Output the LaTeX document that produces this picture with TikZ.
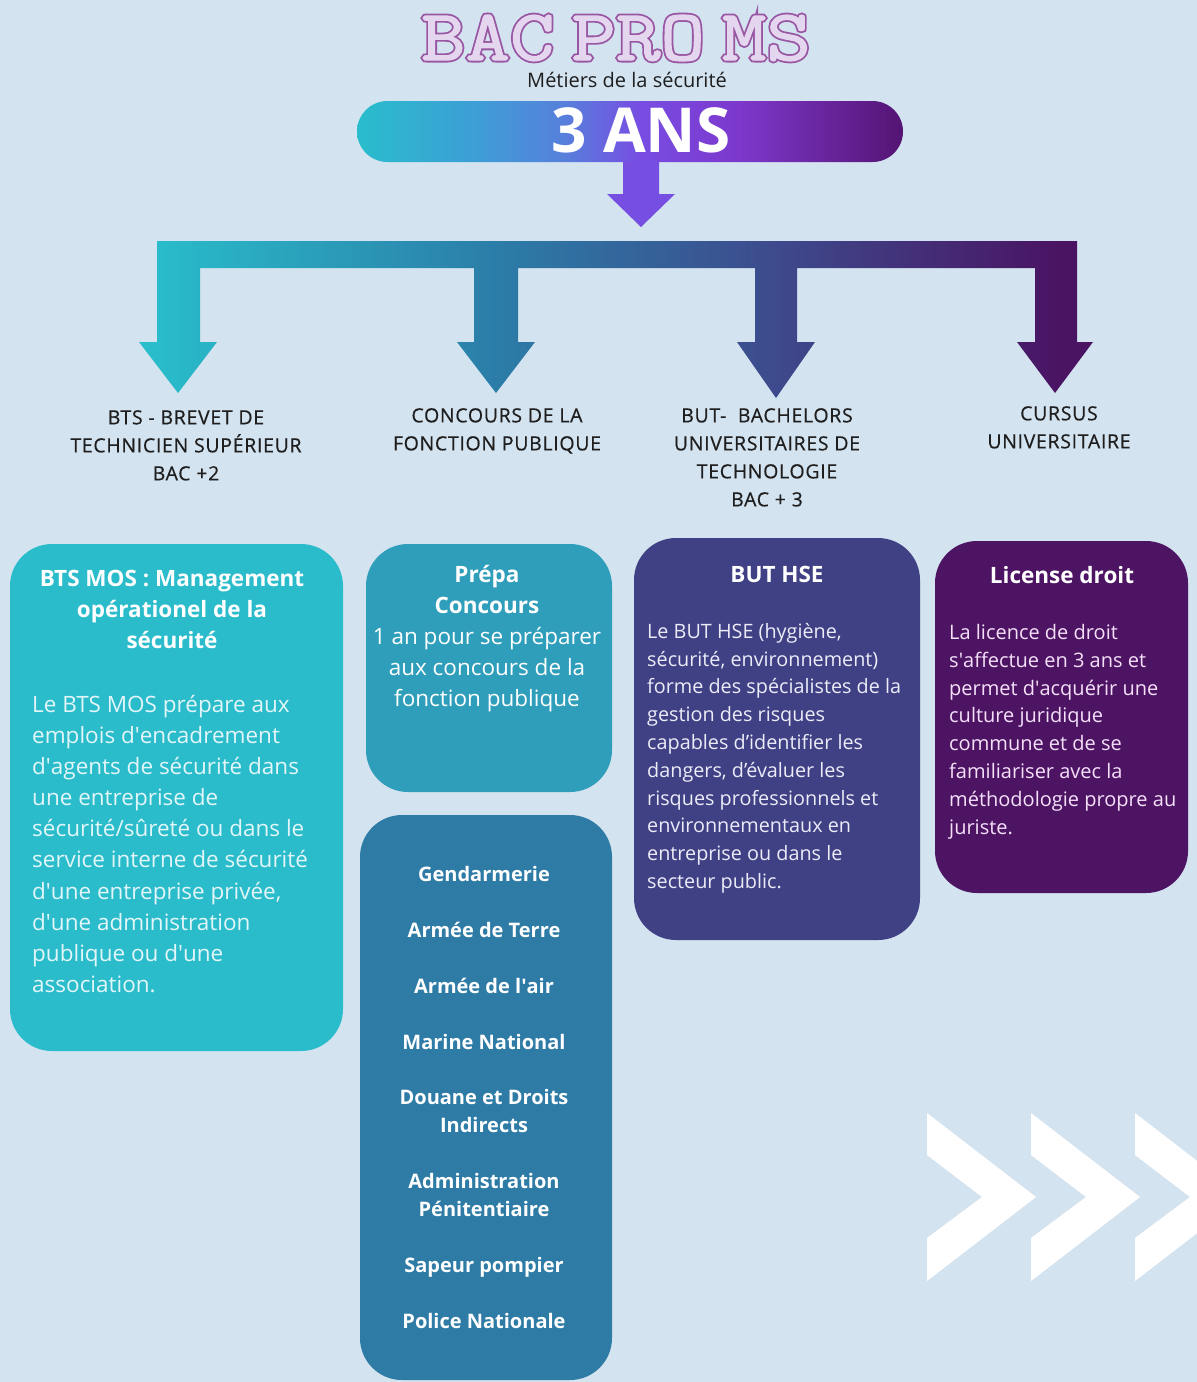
\documentclass[tikz,border=0pt]{standalone}
\usepackage{fontspec}
\setmainfont{Open Sans}
\newfontfamily\slabfont[FakeStretch=1.2]{Latin Modern Mono}
\newfontfamily\labelfont[FakeBold=0.5,LetterSpace=3.5]{Open Sans}
\usetikzlibrary{shapes.misc}
\definecolor{bg}{RGB}{211,227,240}
\definecolor{cyanbox}{RGB}{43,188,203}
\definecolor{prepabox}{RGB}{46,158,187}
\definecolor{listbox}{RGB}{46,123,166}
\definecolor{butbox}{RGB}{64,64,133}
\definecolor{licbox}{RGB}{78,20,100}
\definecolor{titlefill}{RGB}{228,214,238}
\definecolor{titleborder}{RGB}{153,87,163}
\definecolor{arrowpurple}{RGB}{118,78,226}
\definecolor{cyantext}{RGB}{226,246,249}
\definecolor{butext}{RGB}{236,236,248}
\definecolor{lictext}{RGB}{244,224,248}
\definecolor{darktext}{RGB}{30,30,30}
\pgfdeclarehorizontalshading{barshade}{100bp}{rgb(0bp)=(0.16,0.74,0.80); rgb(25bp)=(0.16,0.74,0.80); rgb(36bp)=(0.24,0.62,0.84); rgb(44bp)=(0.34,0.50,0.86); rgb(51bp)=(0.47,0.30,0.89); rgb(60bp)=(0.49,0.22,0.80); rgb(75bp)=(0.33,0.08,0.45); rgb(100bp)=(0.33,0.08,0.45)}
\pgfdeclarehorizontalshading{forkshade}{100bp}{rgb(0bp)=(0.16,0.75,0.80); rgb(25bp)=(0.16,0.75,0.80); rgb(43.7bp)=(0.17,0.49,0.66); rgb(58.4bp)=(0.24,0.29,0.55); rgb(73bp)=(0.29,0.08,0.39); rgb(100bp)=(0.29,0.08,0.39)}
\newcommand{\titleword}{BAC\hspace{17pt}PRO\hspace{17pt}MS}
\newcommand{\outerlayer}[1]{{\color{titleborder}\special{pdf:literal direct 2 Tr 5 w 0.60 0.34 0.64 RG}#1\special{pdf:literal direct 0 Tr 1 w}}}
\newcommand{\innerlayer}[1]{{\color{titlefill}\special{pdf:literal direct 2 Tr 1.4 w 0.894 0.839 0.933 RG}#1\special{pdf:literal direct 0 Tr 1 w}}}
\newcommand{\sq}{\XeTeXglyph\XeTeXcharglyph"0027\relax}
\tikzset{
  box/.style={rounded corners=42pt, inner sep=0pt, draw=none},
  lbl/.style={font=\labelfont\fontsize{19.5}{28}\selectfont, text=darktext, align=center, anchor=north, inner sep=0pt},
  boxtitle/.style={font=\fontsize{22.5}{31}\selectfont\bfseries, text=white, align=center, anchor=north, inner sep=0pt},
  item/.style={font=\fontsize{20}{28}\selectfont\bfseries, text=white, align=center, anchor=north, inner sep=0pt},
  chev/.style={fill=white, draw=none}
}
\begin{document}
\begin{tikzpicture}[x=1pt,y=-1pt]
\useasboundingbox (0,0) rectangle (1197,1382);
\fill[bg] (0,0) rectangle (1197,1382);

% title
\node[anchor=base, inner sep=0pt, font=\slabfont\fontsize{72}{72}\selectfont] (title) at (616,60)
 {\rlap{\outerlayer{\titleword}}\innerlayer{\titleword}};
\node[inner sep=0pt, font=\fontsize{20}{24}\selectfont, text=darktext] (sub) at (627,80) {Métiers de la sécurité};

% bar
\node[rounded rectangle, minimum width=546pt, minimum height=61pt, inner sep=0pt, shading=barshade] (bar) at (630,131.5) {};
\node[inner sep=0pt, font=\fontsize{62}{62}\selectfont\bfseries, text=white] (ans) at (641,130) {3 ANS};
\fill[arrowpurple] (623,161) -- (659,161) -- (659,194) -- (675,194) -- (641,227) -- (607,194) -- (623,194) -- cycle;

% fork
\shade[shading=forkshade] (157,241) -- (1077,241) -- (1077,342) -- (1093,342) -- (1055,393) -- (1017,342) -- (1035,342) -- (1035,268)
 -- (797,268) -- (797,342) -- (815,342) -- (776,398) -- (737,342) -- (755,342) -- (755,268)
 -- (518,268) -- (518,342) -- (535,342) -- (496,393) -- (457,342) -- (474,342) -- (474,268)
 -- (200,268) -- (200,342) -- (217,342) -- (178,393) -- (139,342) -- (157,342) -- cycle;

% labels
\node[lbl] (l1) at (186,410) {BTS - BREVET DE\\TECHNICIEN SUPÉRIEUR\\BAC +2};
\node[lbl] (l2) at (497,408) {CONCOURS DE LA\\FONCTION PUBLIQUE};
\node[lbl] (l3) at (767,408) {BUT-~ BACHELORS\\UNIVERSITAIRES DE\\TECHNOLOGIE\\BAC + 3};
\node[lbl] (l4) at (1059,406) {CURSUS\\UNIVERSITAIRE};

% boxes
\node[box, fill=cyanbox, minimum width=333pt, minimum height=507pt] (bts) at (176.5,797.5) {};
\node[box, fill=prepabox, minimum width=246pt, minimum height=248pt] (prepa) at (489,668) {};
\node[box, fill=listbox, minimum width=252pt, minimum height=565pt] (list) at (486,1097.5) {};
\node[box, fill=butbox, minimum width=286pt, minimum height=402pt] (but) at (777,739) {};
\node[box, fill=licbox, minimum width=253pt, minimum height=352pt] (lic) at (1061.5,717) {};

% box 1 text
\node[boxtitle] (btst) at (172,570) {BTS MOS : Management\\opérationel de la\\sécurité};
\node[anchor=north west, inner sep=0pt, align=left, text=cyantext, font=\fontsize{22.5}{31.1}\selectfont] (btsb) at (32,695)
 {Le BTS MOS prépare aux\\emplois d\sq encadrement\\d\sq agents de sécurité dans\\une entreprise de\\sécurité/sûreté ou dans le\\service interne de sécurité\\d\sq une entreprise privée,\\d\sq une administration\\publique ou d\sq une\\association.};

% box 2 text
\node[anchor=north, inner sep=0pt, align=center, text=white, font=\fontsize{22.5}{31}\selectfont] (prept) at (487,565)
 {\textbf{Prépa}\\\textbf{Concours}\\1 an pour se préparer\\aux concours de la\\fonction publique};

% box 3 items
\node[item] (i1) at (484,866) {Gendarmerie};
\node[item] (i2) at (484,922) {Armée de Terre};
\node[item] (i3) at (484,978) {Armée de l\sq air};
\node[item] (i4) at (484,1034) {Marine National};
\node[item] (i5) at (484,1089) {Douane et Droits\\Indirects};
\node[item] (i6) at (484,1173) {Administration\\Pénitentiaire};
\node[item] (i7) at (484,1257) {Sapeur pompier};
\node[item] (i8) at (484,1313) {Police Nationale};

% box 4 text
\node[boxtitle] (butt) at (777,566) {BUT HSE};
\node[anchor=north west, inner sep=0pt, align=left, text=butext, font=\fontsize{19.8}{27.8}\selectfont] (butb) at (647,623)
 {Le BUT HSE (hygiène,\\sécurité, environnement)\\forme des spécialistes de la\\gestion des risques\\capables d'identifier les\\dangers, d'évaluer les\\risques professionnels et\\environnementaux en\\entreprise ou dans le\\secteur public.};

% box 5 text
\node[boxtitle] (lict) at (1062,566) {License droit};
\node[anchor=north west, inner sep=0pt, align=left, text=lictext, font=\fontsize{20}{27.8}\selectfont] (licb) at (949,624)
 {La licence de droit\\s\sq affectue en 3 ans et\\permet d\sq acquérir une\\culture juridique\\commune et de se\\familiariser avec la\\méthodologie propre au\\juriste.};

% chevrons
\begin{scope}
\clip (0,0) rectangle (1197,1382);
\foreach \dx in {0,104,208}{
  \fill[chev] (927+\dx,1113) -- (1036+\dx,1197) -- (927+\dx,1281) -- (927+\dx,1238) -- (982+\dx,1197) -- (927+\dx,1155) -- cycle;
}
\end{scope}
\end{tikzpicture}
\end{document}
